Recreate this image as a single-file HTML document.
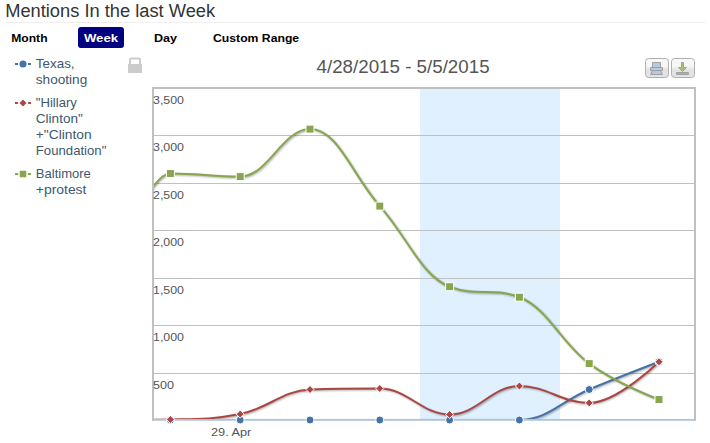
<!DOCTYPE html>
<html><head><meta charset="utf-8"><style>
html,body{margin:0;padding:0;background:#fff;width:710px;height:443px;overflow:hidden;position:relative}
svg text{font-family:"Liberation Sans",sans-serif}
</style></head><body>
<svg width="710" height="443" style="position:absolute;left:0;top:0">
<defs><clipPath id="cp"><rect x="153" y="88" width="542" height="332"/></clipPath>
<linearGradient id="bg" x1="0" y1="0" x2="0" y2="1"><stop offset="0.4" stop-color="#F7F7F7"/><stop offset="0.6" stop-color="#E3E3E3"/></linearGradient></defs>
<text x="5.20" y="17.00" font-size="17.60" letter-spacing="0.00" fill="#333333" font-weight="normal" text-anchor="start" textLength="209.92" lengthAdjust="spacingAndGlyphs">Mentions In the last Week</text>
<rect x="5" y="22" width="700" height="1" fill="#EEEEEE"/>
<text x="11.30" y="42.00" font-size="11.50" letter-spacing="0.00" fill="#000000" font-weight="bold" text-anchor="start" textLength="36.23" lengthAdjust="spacingAndGlyphs">Month</text>
<rect x="78" y="27" width="46" height="21" rx="3" fill="#000080"/>
<text x="83.90" y="42.00" font-size="11.50" letter-spacing="0.00" fill="#FFFFFF" font-weight="bold" text-anchor="start" textLength="34.14" lengthAdjust="spacingAndGlyphs">Week</text>
<text x="153.90" y="42.00" font-size="11.50" letter-spacing="0.00" fill="#000000" font-weight="bold" text-anchor="start" textLength="23.06" lengthAdjust="spacingAndGlyphs">Day</text>
<text x="213.00" y="42.00" font-size="11.50" letter-spacing="0.00" fill="#000000" font-weight="bold" text-anchor="start" textLength="86.17" lengthAdjust="spacingAndGlyphs">Custom Range</text>
<rect x="420" y="88" width="140" height="332" fill="#E0F0FF"/>
<rect x="153" y="135" width="542" height="1" fill="#C0C0C0"/><rect x="153" y="183" width="542" height="1" fill="#C0C0C0"/><rect x="153" y="230" width="542" height="1" fill="#C0C0C0"/><rect x="153" y="278" width="542" height="1" fill="#C0C0C0"/><rect x="153" y="325" width="542" height="1" fill="#C0C0C0"/><rect x="153" y="373" width="542" height="1" fill="#C0C0C0"/>
<g clip-path="url(#cp)">
<path d="M 100.60 420.00 C 100.60 420.00 142.48 420.00 170.40 420.00 C 198.32 420.00 212.28 420.00 240.20 420.00 C 268.12 420.00 282.08 420.00 310.00 420.00 C 337.92 420.00 351.88 420.00 379.80 420.00 C 407.72 420.00 421.68 420.00 449.60 420.00 C 477.52 420.00 491.48 420.00 519.40 420.00 C 547.32 420.00 561.28 401.14 589.20 389.50 C 617.12 377.86 659.00 361.80 659.00 361.80" fill="none" stroke="#000" stroke-opacity="0.05" stroke-width="5" transform="translate(1,1)"/><path d="M 100.60 420.00 C 100.60 420.00 142.48 420.00 170.40 420.00 C 198.32 420.00 212.28 420.00 240.20 420.00 C 268.12 420.00 282.08 420.00 310.00 420.00 C 337.92 420.00 351.88 420.00 379.80 420.00 C 407.72 420.00 421.68 420.00 449.60 420.00 C 477.52 420.00 491.48 420.00 519.40 420.00 C 547.32 420.00 561.28 401.14 589.20 389.50 C 617.12 377.86 659.00 361.80 659.00 361.80" fill="none" stroke="#000" stroke-opacity="0.10" stroke-width="3" transform="translate(1,1)"/><path d="M 100.60 420.00 C 100.60 420.00 142.48 420.00 170.40 420.00 C 198.32 420.00 212.28 420.00 240.20 420.00 C 268.12 420.00 282.08 420.00 310.00 420.00 C 337.92 420.00 351.88 420.00 379.80 420.00 C 407.72 420.00 421.68 420.00 449.60 420.00 C 477.52 420.00 491.48 420.00 519.40 420.00 C 547.32 420.00 561.28 401.14 589.20 389.50 C 617.12 377.86 659.00 361.80 659.00 361.80" fill="none" stroke="#000" stroke-opacity="0.15" stroke-width="1" transform="translate(1,1)"/><path d="M 100.60 420.00 C 100.60 420.00 142.48 420.00 170.40 420.00 C 198.32 420.00 212.28 420.00 240.20 420.00 C 268.12 420.00 282.08 420.00 310.00 420.00 C 337.92 420.00 351.88 420.00 379.80 420.00 C 407.72 420.00 421.68 420.00 449.60 420.00 C 477.52 420.00 491.48 420.00 519.40 420.00 C 547.32 420.00 561.28 401.14 589.20 389.50 C 617.12 377.86 659.00 361.80 659.00 361.80" fill="none" stroke="#4572A7" stroke-width="2"/>
<path d="M 100.60 420.00 C 100.60 420.00 142.48 420.00 170.40 419.50 C 198.32 419.00 212.28 419.50 240.20 414.10 C 268.12 408.70 282.08 390.50 310.00 389.50 C 337.92 388.50 351.88 388.50 379.80 388.50 C 407.72 388.50 421.68 414.50 449.60 414.50 C 477.52 414.50 491.48 386.00 519.40 386.00 C 547.32 386.00 561.28 402.90 589.20 402.90 C 617.12 402.90 659.00 361.80 659.00 361.80" fill="none" stroke="#000" stroke-opacity="0.05" stroke-width="5" transform="translate(1,1)"/><path d="M 100.60 420.00 C 100.60 420.00 142.48 420.00 170.40 419.50 C 198.32 419.00 212.28 419.50 240.20 414.10 C 268.12 408.70 282.08 390.50 310.00 389.50 C 337.92 388.50 351.88 388.50 379.80 388.50 C 407.72 388.50 421.68 414.50 449.60 414.50 C 477.52 414.50 491.48 386.00 519.40 386.00 C 547.32 386.00 561.28 402.90 589.20 402.90 C 617.12 402.90 659.00 361.80 659.00 361.80" fill="none" stroke="#000" stroke-opacity="0.10" stroke-width="3" transform="translate(1,1)"/><path d="M 100.60 420.00 C 100.60 420.00 142.48 420.00 170.40 419.50 C 198.32 419.00 212.28 419.50 240.20 414.10 C 268.12 408.70 282.08 390.50 310.00 389.50 C 337.92 388.50 351.88 388.50 379.80 388.50 C 407.72 388.50 421.68 414.50 449.60 414.50 C 477.52 414.50 491.48 386.00 519.40 386.00 C 547.32 386.00 561.28 402.90 589.20 402.90 C 617.12 402.90 659.00 361.80 659.00 361.80" fill="none" stroke="#000" stroke-opacity="0.15" stroke-width="1" transform="translate(1,1)"/><path d="M 100.60 420.00 C 100.60 420.00 142.48 420.00 170.40 419.50 C 198.32 419.00 212.28 419.50 240.20 414.10 C 268.12 408.70 282.08 390.50 310.00 389.50 C 337.92 388.50 351.88 388.50 379.80 388.50 C 407.72 388.50 421.68 414.50 449.60 414.50 C 477.52 414.50 491.48 386.00 519.40 386.00 C 547.32 386.00 561.28 402.90 589.20 402.90 C 617.12 402.90 659.00 361.80 659.00 361.80" fill="none" stroke="#AA4643" stroke-width="2"/>
<path d="M 100.60 312.00 C 100.60 312.00 142.48 173.50 170.40 173.50 C 198.32 173.50 212.28 176.60 240.20 176.60 C 268.12 176.60 282.08 129.10 310.00 129.10 C 337.92 129.10 351.88 174.58 379.80 206.10 C 407.72 237.62 421.68 276.20 449.60 286.70 C 477.52 297.20 491.48 286.70 519.40 297.20 C 547.32 307.70 561.28 343.14 589.20 363.60 C 617.12 384.06 659.00 399.50 659.00 399.50" fill="none" stroke="#000" stroke-opacity="0.05" stroke-width="5" transform="translate(1,1)"/><path d="M 100.60 312.00 C 100.60 312.00 142.48 173.50 170.40 173.50 C 198.32 173.50 212.28 176.60 240.20 176.60 C 268.12 176.60 282.08 129.10 310.00 129.10 C 337.92 129.10 351.88 174.58 379.80 206.10 C 407.72 237.62 421.68 276.20 449.60 286.70 C 477.52 297.20 491.48 286.70 519.40 297.20 C 547.32 307.70 561.28 343.14 589.20 363.60 C 617.12 384.06 659.00 399.50 659.00 399.50" fill="none" stroke="#000" stroke-opacity="0.10" stroke-width="3" transform="translate(1,1)"/><path d="M 100.60 312.00 C 100.60 312.00 142.48 173.50 170.40 173.50 C 198.32 173.50 212.28 176.60 240.20 176.60 C 268.12 176.60 282.08 129.10 310.00 129.10 C 337.92 129.10 351.88 174.58 379.80 206.10 C 407.72 237.62 421.68 276.20 449.60 286.70 C 477.52 297.20 491.48 286.70 519.40 297.20 C 547.32 307.70 561.28 343.14 589.20 363.60 C 617.12 384.06 659.00 399.50 659.00 399.50" fill="none" stroke="#000" stroke-opacity="0.15" stroke-width="1" transform="translate(1,1)"/><path d="M 100.60 312.00 C 100.60 312.00 142.48 173.50 170.40 173.50 C 198.32 173.50 212.28 176.60 240.20 176.60 C 268.12 176.60 282.08 129.10 310.00 129.10 C 337.92 129.10 351.88 174.58 379.80 206.10 C 407.72 237.62 421.68 276.20 449.60 286.70 C 477.52 297.20 491.48 286.70 519.40 297.20 C 547.32 307.70 561.28 343.14 589.20 363.60 C 617.12 384.06 659.00 399.50 659.00 399.50" fill="none" stroke="#89A54E" stroke-width="2"/>
</g>
<rect x="153" y="88" width="542" height="332" fill="none" stroke="#C0C0C0" stroke-width="2"/>
<rect x="153" y="420" width="542" height="1" fill="#C0D0E0"/>
<text x="153.00" y="104.00" font-size="11.60" letter-spacing="0.00" fill="#555555" textLength="31.00" lengthAdjust="spacingAndGlyphs">3,500</text><text x="153.00" y="151.00" font-size="11.60" letter-spacing="0.00" fill="#555555" textLength="31.00" lengthAdjust="spacingAndGlyphs">3,000</text><text x="153.00" y="199.00" font-size="11.60" letter-spacing="0.00" fill="#555555" textLength="31.00" lengthAdjust="spacingAndGlyphs">2,500</text><text x="153.00" y="246.00" font-size="11.60" letter-spacing="0.00" fill="#555555" textLength="31.00" lengthAdjust="spacingAndGlyphs">2,000</text><text x="153.00" y="294.00" font-size="11.60" letter-spacing="0.00" fill="#555555" textLength="31.00" lengthAdjust="spacingAndGlyphs">1,500</text><text x="153.00" y="341.00" font-size="11.60" letter-spacing="0.00" fill="#555555" textLength="31.00" lengthAdjust="spacingAndGlyphs">1,000</text><text x="153.00" y="389.00" font-size="11.60" letter-spacing="0.00" fill="#555555" textLength="21.00" lengthAdjust="spacingAndGlyphs">500</text>
<text x="211.00" y="436.00" font-size="11.60" letter-spacing="0.00" fill="#555555" font-weight="normal" text-anchor="start" textLength="40.29" lengthAdjust="spacingAndGlyphs">29. Apr</text>
<circle cx="170.4" cy="420.0" r="4" fill="#4572A7" stroke="#fff" stroke-width="1"/><circle cx="240.2" cy="420.0" r="4" fill="#4572A7" stroke="#fff" stroke-width="1"/><circle cx="310.0" cy="420.0" r="4" fill="#4572A7" stroke="#fff" stroke-width="1"/><circle cx="379.8" cy="420.0" r="4" fill="#4572A7" stroke="#fff" stroke-width="1"/><circle cx="449.6" cy="420.0" r="4" fill="#4572A7" stroke="#fff" stroke-width="1"/><circle cx="519.4" cy="420.0" r="4" fill="#4572A7" stroke="#fff" stroke-width="1"/><circle cx="589.2" cy="389.5" r="4" fill="#4572A7" stroke="#fff" stroke-width="1"/><circle cx="659.0" cy="361.8" r="4" fill="#4572A7" stroke="#fff" stroke-width="1"/>
<path d="M170.4 415.5 L174.4 419.5 L170.4 423.5 L166.4 419.5 Z" fill="#AA4643" stroke="#fff" stroke-width="1"/><path d="M240.2 410.1 L244.2 414.1 L240.2 418.1 L236.2 414.1 Z" fill="#AA4643" stroke="#fff" stroke-width="1"/><path d="M310.0 385.5 L314.0 389.5 L310.0 393.5 L306.0 389.5 Z" fill="#AA4643" stroke="#fff" stroke-width="1"/><path d="M379.8 384.5 L383.8 388.5 L379.8 392.5 L375.8 388.5 Z" fill="#AA4643" stroke="#fff" stroke-width="1"/><path d="M449.6 410.5 L453.6 414.5 L449.6 418.5 L445.6 414.5 Z" fill="#AA4643" stroke="#fff" stroke-width="1"/><path d="M519.4 382.0 L523.4 386.0 L519.4 390.0 L515.4 386.0 Z" fill="#AA4643" stroke="#fff" stroke-width="1"/><path d="M589.2 398.9 L593.2 402.9 L589.2 406.9 L585.2 402.9 Z" fill="#AA4643" stroke="#fff" stroke-width="1"/><path d="M659.0 357.8 L663.0 361.8 L659.0 365.8 L655.0 361.8 Z" fill="#AA4643" stroke="#fff" stroke-width="1"/>
<rect x="166.4" y="169.5" width="8" height="8" fill="#89A54E" stroke="#fff" stroke-width="1"/><rect x="236.2" y="172.6" width="8" height="8" fill="#89A54E" stroke="#fff" stroke-width="1"/><rect x="306.0" y="125.1" width="8" height="8" fill="#89A54E" stroke="#fff" stroke-width="1"/><rect x="375.8" y="202.1" width="8" height="8" fill="#89A54E" stroke="#fff" stroke-width="1"/><rect x="445.6" y="282.7" width="8" height="8" fill="#89A54E" stroke="#fff" stroke-width="1"/><rect x="515.4" y="293.2" width="8" height="8" fill="#89A54E" stroke="#fff" stroke-width="1"/><rect x="585.2" y="359.6" width="8" height="8" fill="#89A54E" stroke="#fff" stroke-width="1"/><rect x="655.0" y="395.5" width="8" height="8" fill="#89A54E" stroke="#fff" stroke-width="1"/>
<text x="316.50" y="73.00" font-size="18.80" letter-spacing="0.00" fill="#555555" font-weight="normal" text-anchor="start" textLength="173.09" lengthAdjust="spacingAndGlyphs">4/28/2015 - 5/5/2015</text>
<rect x="128" y="64" width="14" height="9" fill="#CCCCCC"/>
<path d="M130 64 V59.5 Q130 58.5 131 58.5 H139 Q140 58.5 140 59.5 V64" fill="none" stroke="#CCCCCC" stroke-width="2"/>
<rect x="645.5" y="58.5" width="23" height="19" rx="3" fill="url(#bg)" stroke="#B0B0B0"/>
<rect x="671.5" y="58.5" width="23" height="19" rx="3" fill="url(#bg)" stroke="#B0B0B0"/>
<g stroke="#A0A0A0" stroke-width="1" fill="#B5C9DF">
<path d="M650.5 67.5 H662.5 V70.5 H650.5 Z"/>
<path d="M652.5 67.5 V62.5 H660.5 V67.5 Z"/>
<path d="M652.5 70.5 L650.5 74.5 H662.5 L660.5 70.5 Z"/>
</g>
<g stroke="#A0A0A0" stroke-width="1" fill="#A8BF77">
<path d="M676.5 72.5 H688.5 V74.5 H676.5 Z"/>
<path d="M682.5 71.5 L678.5 67.5 H681.5 V62.5 H683.5 V67.5 H686.5 Z"/>
</g>
<rect x="15" y="63.0" width="16" height="2" fill="#4572A7"/><circle cx="23" cy="64.0" r="4.3" fill="#4572A7" stroke="#fff" stroke-width="1.5"/><text x="35.80" y="67.80" font-size="12.60" letter-spacing="0.00" fill="#3E576F" textLength="38.79" lengthAdjust="spacingAndGlyphs">Texas,</text><text x="35.80" y="83.70" font-size="12.60" letter-spacing="0.00" fill="#3E576F" textLength="51.45" lengthAdjust="spacingAndGlyphs">shooting</text><rect x="15" y="102.0" width="16" height="2" fill="#AA4643"/><path d="M23 98.5 L27.5 103.0 L23 107.5 L18.5 103.0 Z" fill="#AA4643" stroke="#fff" stroke-width="1.5"/><text x="35.80" y="106.90" font-size="12.60" letter-spacing="0.00" fill="#3E576F" textLength="41.13" lengthAdjust="spacingAndGlyphs">&quot;Hillary</text><text x="35.80" y="122.90" font-size="12.60" letter-spacing="0.00" fill="#3E576F" textLength="47.07" lengthAdjust="spacingAndGlyphs">Clinton&quot;</text><text x="35.80" y="138.90" font-size="12.60" letter-spacing="0.00" fill="#3E576F" textLength="55.78" lengthAdjust="spacingAndGlyphs">+&quot;Clinton</text><text x="35.80" y="154.90" font-size="12.60" letter-spacing="0.00" fill="#3E576F" textLength="70.58" lengthAdjust="spacingAndGlyphs">Foundation&quot;</text><rect x="15" y="173.0" width="16" height="2" fill="#89A54E"/><rect x="19" y="170.0" width="8" height="8" fill="#89A54E" stroke="#fff" stroke-width="1.5"/><text x="35.80" y="177.80" font-size="12.60" letter-spacing="0.00" fill="#3E576F" textLength="55.08" lengthAdjust="spacingAndGlyphs">Baltimore</text><text x="35.80" y="193.50" font-size="12.60" letter-spacing="0.00" fill="#3E576F" textLength="50.65" lengthAdjust="spacingAndGlyphs">+protest</text>
</svg>
</body></html>
